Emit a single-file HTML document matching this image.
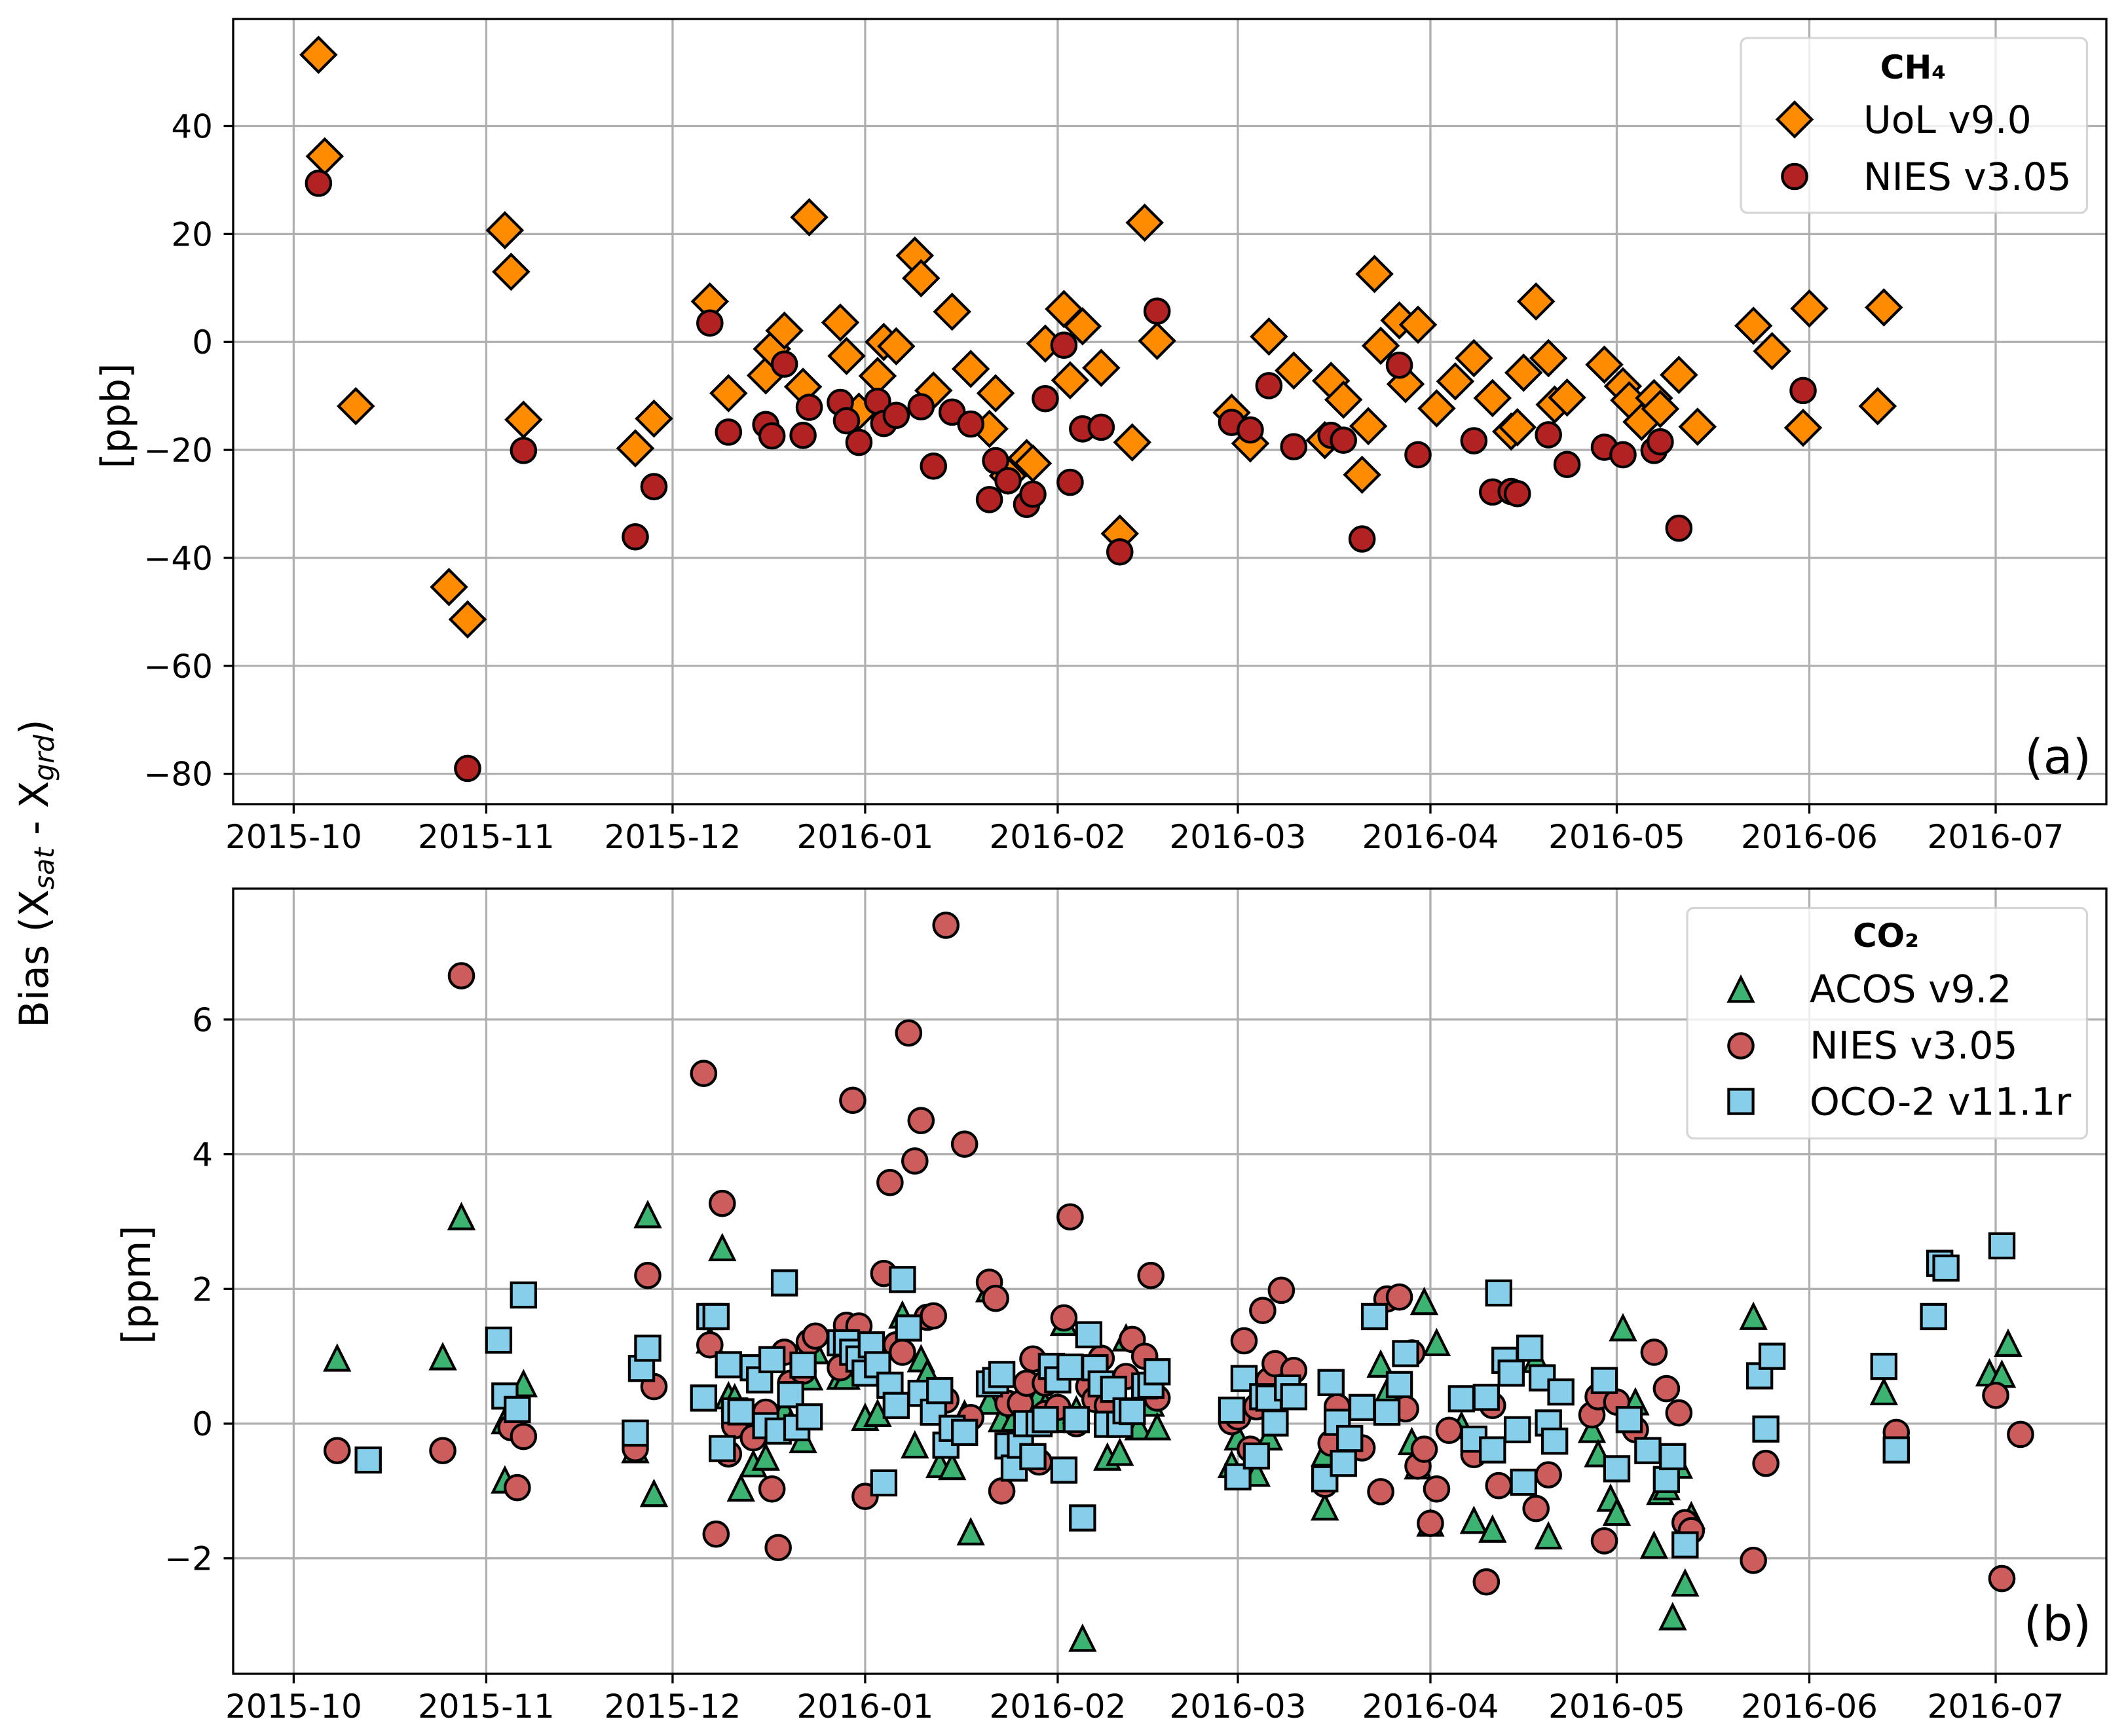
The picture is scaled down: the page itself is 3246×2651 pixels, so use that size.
<!DOCTYPE html>
<html><head><meta charset="utf-8"><title>Satellite bias chart</title>
<style>
html,body{margin:0;padding:0;background:#fff}
svg{display:block}
text{font-family:"DejaVu Sans","Liberation Sans",sans-serif;fill:#000}
</style></head>
<body>
<svg id="fig" xmlns="http://www.w3.org/2000/svg" width="3246" height="2651" viewBox="0 0 3246 2651"></svg>
<script>
// x values: days since 2015-10-01
const xTickDays=[0,31,61,92,123,152,183,213,244,274];
const xTickLabels=["2015-10","2015-11","2015-12","2016-01","2016-02","2016-03","2016-04","2016-05","2016-06","2016-07"];
const ch4Ticks=[40,20,0,-20,-40,-60,-80];
const co2Ticks=[6,4,2,0,-2];

const uolDays=[4,5,10,25,28,34,35,37,55,58,67,70,76,77,79,82,83,88,89,91,94,95,97,100,101,103,106,109,112,113,115,118,119,121,124,125,127,130,133,135,137,139,151,154,157,161,166,167,169,172,173,174,175,178,179,181,184,187,190,193,196,197,198,200,202,203,205,211,214,215,217,219,220,223,226,235,238,243,244,255,256];
const uolValues=[53.2,34.4,-11.9,-45.4,-51.4,20.7,13,-14.4,-19.7,-14.2,7.5,-9.5,-6.2,-1.3,2.1,-8.3,23.1,3.6,-2.6,-12.9,-6.3,0,-0.8,16,11.8,-9,5.6,-5,-16.1,-9.5,-24.8,-21.5,-22.5,-0.3,6.1,-7.1,2.9,-4.8,-35.5,-18.6,22.1,0.2,-13.1,-18.8,1,-5.3,-18.2,-7.2,-10.7,-24.6,-15.6,12.6,-0.7,4,-7.8,3.2,-12.3,-7.3,-3,-10.4,-16.6,-15.8,-5.7,7.5,-3,-11.6,-10.3,-4.2,-8.2,-10.8,-14.8,-10.4,-12.4,-6.1,-15.7,3,-1.7,-15.9,6.2,-11.9,6.4];

const ch4NiesDays=[4,28,37,55,58,67,70,76,77,79,82,83,88,89,91,94,95,97,101,103,106,109,112,113,115,118,119,121,124,125,127,130,133,139,151,154,157,161,167,169,172,178,181,190,193,196,197,202,205,211,214,219,220,223,243];
const ch4NiesValues=[29.4,-79,-20.1,-36.1,-26.8,3.5,-16.7,-15.3,-17.4,-4.1,-17.3,-12.1,-11.2,-14.6,-18.6,-11,-15.1,-13.6,-12,-23,-13,-15.2,-29.2,-22,-25.7,-30.1,-28.2,-10.5,-0.6,-26,-16.1,-15.8,-38.9,5.7,-14.9,-16.3,-8.1,-19.4,-17.3,-18.2,-36.5,-4.3,-20.9,-18.3,-27.8,-27.7,-28.1,-17.2,-22.7,-19.5,-20.9,-20.1,-18.5,-34.5,-9];

const acosDays=[7,24,27,34,34,37,55,57,58,67,69,70,71,72,74,76,79,80,82,83,84,88,89,92,94,98,100,101,102,104,106,108,109,112,112,114,116,120,121,123,124,126,127,131,133,134,136,138,139,151,152,155,157,166,166,175,176,180,181,182,183,184,188,190,193,200,202,209,210,212,213,214,216,219,220,221,222,223,224,225,235,256,273,275,276];
const acosValues=[0.97,0.99,3.07,0.04,-0.84,0.59,-0.39,3.1,-1.04,1.24,2.61,0.41,0.38,-0.96,-0.6,-0.5,0.2,0,-0.24,0.69,1.08,0.7,0.7,0.09,0.15,1.61,-0.32,0.96,0.75,-0.61,-0.64,0.14,-1.61,0.33,2,0.07,0.08,0.43,0.27,0.06,1.5,0.2,-3.19,-0.5,-0.43,1.27,-0.05,0.3,-0.05,-0.61,-0.2,-0.74,-0.2,-1.24,-0.44,0.88,0.47,-0.27,-0.63,1.81,-1.48,1.2,-0.03,-1.44,-1.57,0.95,-1.67,-0.09,-0.45,-1.11,-1.32,1.42,0.32,-1.81,-1.01,-0.94,-2.87,-0.62,-2.37,-1.37,1.59,0.47,0.75,0.73,1.19];

const co2NiesDays=[7,24,27,35,36,37,55,57,58,66,67,68,69,70,71,74,76,77,78,79,80,82,83,84,88,89,90,91,92,95,96,97,98,99,100,101,102,103,105,105,108,109,112,113,114,115,117,118,119,120,121,121,123,124,125,126,128,129,130,131,134,135,137,138,139,151,152,153,154,155,156,157,158,159,161,166,167,168,172,175,176,178,179,180,181,182,183,184,186,190,192,193,194,200,202,209,210,211,213,216,219,221,223,224,225,235,237,258,274,275,278];
const co2NiesValues=[-0.4,-0.4,6.65,-0.06,-0.95,-0.19,-0.37,2.2,0.55,5.2,1.17,-1.64,3.27,-0.45,-0.03,-0.21,0.17,-0.97,-1.84,1.06,0.6,0.78,1.21,1.3,0.83,1.46,4.8,1.45,-1.08,2.23,3.58,1.17,1.06,5.8,3.9,4.5,1.58,1.6,7.4,0.35,4.15,0.09,2.1,1.86,-1,0.3,0.3,0.6,0.96,-0.57,0.6,0.15,0.24,1.57,3.07,0,0.55,0.36,0.97,0.27,0.7,1.25,1,2.2,0.38,0.03,0.1,1.23,-0.38,0.25,1.68,0.64,0.89,1.98,0.79,-0.9,-0.29,0.25,-0.36,-1.01,1.85,1.88,0.22,1.05,-0.63,-0.38,-1.48,-0.97,-0.1,-0.46,-2.35,0.27,-0.92,-1.26,-0.76,0.13,0.4,-1.74,0.32,-0.09,1.06,0.52,0.16,-1.47,-1.59,-2.03,-0.59,-0.13,0.42,-2.3,-0.16];

const ocoDays=[12,33,34,36,37,55,56,57,66,67,68,69,70,71,72,74,75,76,77,78,79,80,81,82,83,88,89,90,91,92,93,94,95,96,97,98,99,101,103,104,105,106,108,112,113,114,115,116,117,118,119,120,121,122,123,124,125,126,127,128,129,130,131,132,133,134,135,137,138,139,151,152,153,155,156,157,158,160,161,166,167,168,169,170,172,174,176,178,179,188,190,192,193,194,195,196,197,198,199,201,202,203,204,211,213,215,218,221,222,224,236,237,238,256,258,264,265,266,275];
const ocoValues=[-0.54,1.24,0.41,0.21,1.91,-0.14,0.82,1.12,0.38,1.59,1.59,-0.37,0.875,0.19,0.175,0.83,0.65,-0.03,0.95,-0.11,2.09,0.43,-0.06,0.87,0.1,1.2,1.2,1.06,0.96,0.75,1.17,0.875,-0.88,0.57,0.27,2.14,1.42,0.45,0.17,0.49,-0.32,-0.07,-0.13,0.59,0.64,0.73,-0.33,-0.66,-0.32,0,-0.49,0,0.06,0.85,0.65,-0.69,0.84,0.06,-1.4,1.32,0.83,0.59,-0.01,0.51,-0.01,0.19,0.18,0.56,0.57,0.77,0.2,-0.79,0.67,-0.48,0.4,0.38,0.01,0.53,0.4,-0.82,0.61,0.02,-0.59,-0.22,0.24,1.59,0.17,0.58,1.04,0.37,-0.23,0.39,-0.39,1.94,0.94,0.75,-0.09,-0.87,1.12,0.68,0.01,-0.26,0.47,0.64,-0.67,0.06,-0.4,-0.83,-0.49,-1.8,0.71,-0.08,1,0.85,-0.39,1.59,2.38,2.31,2.64];

const NS='http://www.w3.org/2000/svg';
const fig=document.getElementById('fig');
const LEFT=356,RIGHT=3216;
const AXIS_COLOR='#000',GRID='#b0b0b0',LW=3.3,MEW=4.2;
function xScale(day){return 448.4+day*9.484;}
function yScaleA(v){return 522.2-v*8.243;}
function yScaleB(v){return 2174-v*102.85;}
function el(tag,attrs,parent){const e=document.createElementNS(NS,tag);for(const k in attrs)e.setAttribute(k,attrs[k]);(parent||fig).appendChild(e);return e;}
function txt(str,attrs,parent){const e=el('text',attrs,parent);e.textContent=str;return e;}

function marker(kind,cx,cy,fill,parent){
  let e;
  if(kind==='diamond'){const d=26.3;e=el('polygon',{points:`${cx},${cy-d} ${cx+d},${cy} ${cx},${cy+d} ${cx-d},${cy}`},parent);}
  else if(kind==='circle'){e=el('circle',{cx:cx,cy:cy,r:18.7},parent);}
  else if(kind==='square'){const s=18.6;e=el('rect',{x:cx-s,y:cy-s,width:2*s,height:2*s},parent);}
  else{const s=18.3;e=el('polygon',{points:`${cx},${cy-s} ${cx+s},${cy+s} ${cx-s},${cy+s}`},parent);}
  e.setAttribute('fill',fill);e.setAttribute('stroke','#000');e.setAttribute('stroke-width',MEW);e.setAttribute('stroke-linejoin','miter');e.setAttribute('stroke-miterlimit','10');
  return e;
}

function drawAxes(name,top,bottom,yTicks,yScale,baseline){
  const g=el('g',{});
  
  
  xTickDays.forEach((d,i)=>{
    const x=xScale(d);
    const gl=el('line',{x1:x,x2:x,y1:top,y2:bottom,stroke:GRID,'stroke-width':LW},g);
    
    
  });
  yTicks.forEach((v,i)=>{
    const y=yScale(v);
    const gl=el('line',{x1:LEFT,x2:RIGHT,y1:y,y2:y,stroke:GRID,'stroke-width':LW},g);
    
    
  });
  return g;
}
function drawFrame(name,top,bottom,yTicks,yScale,baseline){
  const g=el('g',{});
  
  
  el('rect',{x:LEFT,y:top,width:RIGHT-LEFT,height:bottom-top,fill:'none',stroke:AXIS_COLOR,'stroke-width':LW},g);
  xTickDays.forEach((d,i)=>{
    const x=xScale(d);
    el('line',{x1:x,x2:x,y1:bottom,y2:bottom+14.5,stroke:AXIS_COLOR,'stroke-width':LW},g);
    const t=txt(xTickLabels[i],{x:x,y:baseline,'text-anchor':'middle','font-size':50},g);
    
    
  });
  yTicks.forEach(v=>{
    const y=yScale(v);
    el('line',{x1:LEFT-14.5,x2:LEFT,y1:y,y2:y,stroke:AXIS_COLOR,'stroke-width':LW},g);
    const t=txt(String(v).replace('-','\u2212'),{x:LEFT-31,y:y+18,'text-anchor':'end','font-size':50},g);
    
    
  });
}
function drawSeries(name,kind,fill,days,values,yScale){
  const g=el('g',{});
  
  
  days.forEach((d,i)=>{
    const m=marker(kind,xScale(d),yScale(values[i]),fill,g);
    
    
  });
}
function drawLegend(name,x,y,w,h,title,titleX,titleY,markerX,textX,rows){
  const g=el('g',{});
  
  
  el('rect',{x:x,y:y,width:w,height:h,rx:10,ry:10,fill:'#fff','fill-opacity':0.8,stroke:'#ccc','stroke-opacity':0.8,'stroke-width':LW},g);
  const tt=txt(title,{x:titleX,y:titleY,'text-anchor':'middle','font-size':50,'font-weight':'bold'},g);
  
  
  rows.forEach(r=>{
    const m=marker(r.kind,markerX,r.my,r.fill,g);
    
    
    const t=txt(r.label,{x:textX,y:r.ty,'font-size':58.33},g);
    
    
  });
}

// Panel (a)
const aTop=29,aBottom=1228,bTop=1357,bBottom=2556;
drawAxes('ch4',aTop,aBottom,ch4Ticks,yScaleA,1295);
drawSeries('uol-v9','diamond','#ff8c00',uolDays,uolValues,yScaleA);
drawSeries('ch4-nies-v305','circle','#b22222',ch4NiesDays,ch4NiesValues,yScaleA);
drawLegend('ch4-legend',2658,58,528.5,267,'CH\u2084',2921,120,2740,2845,[
  {kind:'diamond',fill:'#ff8c00',my:182.4,ty:203,label:'UoL v9.0'},
  {kind:'circle',fill:'#b22222',my:269.5,ty:290,label:'NIES v3.05'}]);
drawFrame('ch4',aTop,aBottom,ch4Ticks,yScaleA,1295);
const labelA=txt('(a)',{x:3193,y:1181,'text-anchor':'end','font-size':73});


const ppb=txt('[ppb]',{x:0,y:0,'text-anchor':'middle','font-size':60,transform:'translate(197,635) rotate(-90)'});



// Panel (b)
drawAxes('co2',bTop,bBottom,co2Ticks,yScaleB,2623);
drawSeries('acos-v92','triangle','#3cb371',acosDays,acosValues,yScaleB);
drawSeries('co2-nies-v305','circle','#cd5c5c',co2NiesDays,co2NiesValues,yScaleB);
drawSeries('oco2-v111r','square','#87ceeb',ocoDays,ocoValues,yScaleB);
drawLegend('co2-legend',2576,1386.5,610.5,352,'CO\u2082',2879.5,1446,2658,2763,[
  {kind:'triangle',fill:'#3cb371',my:1511,ty:1530.5,label:'ACOS v9.2'},
  {kind:'circle',fill:'#cd5c5c',my:1597,ty:1616.4,label:'NIES v3.05'},
  {kind:'square',fill:'#87ceeb',my:1682,ty:1702.4,label:'OCO-2 v11.1r'}]);
drawFrame('co2',bTop,bBottom,co2Ticks,yScaleB,2623);
const labelB=txt('(b)',{x:3193,y:2505,'text-anchor':'end','font-size':73});


const ppm=txt('[ppm]',{x:0,y:0,'text-anchor':'middle','font-size':60,transform:'translate(229,1962) rotate(-90)'});



// Shared label
const bias=el('text',{x:0,y:0,'text-anchor':'middle','font-size':60.5,transform:'translate(73,1334) rotate(-90)'});


[['Bias (X',0,0],['sat',9,1],[' - X',-9,0],['grd',9,1],[')',-9,0]].forEach(p=>{
  const s=el('tspan',{dy:p[1]},bias);
  if(p[2]){s.setAttribute('font-size','42');s.setAttribute('font-style','italic');}
  s.setAttribute('xml:space','preserve');
  s.textContent=p[0];
});
</script>
</body></html>
